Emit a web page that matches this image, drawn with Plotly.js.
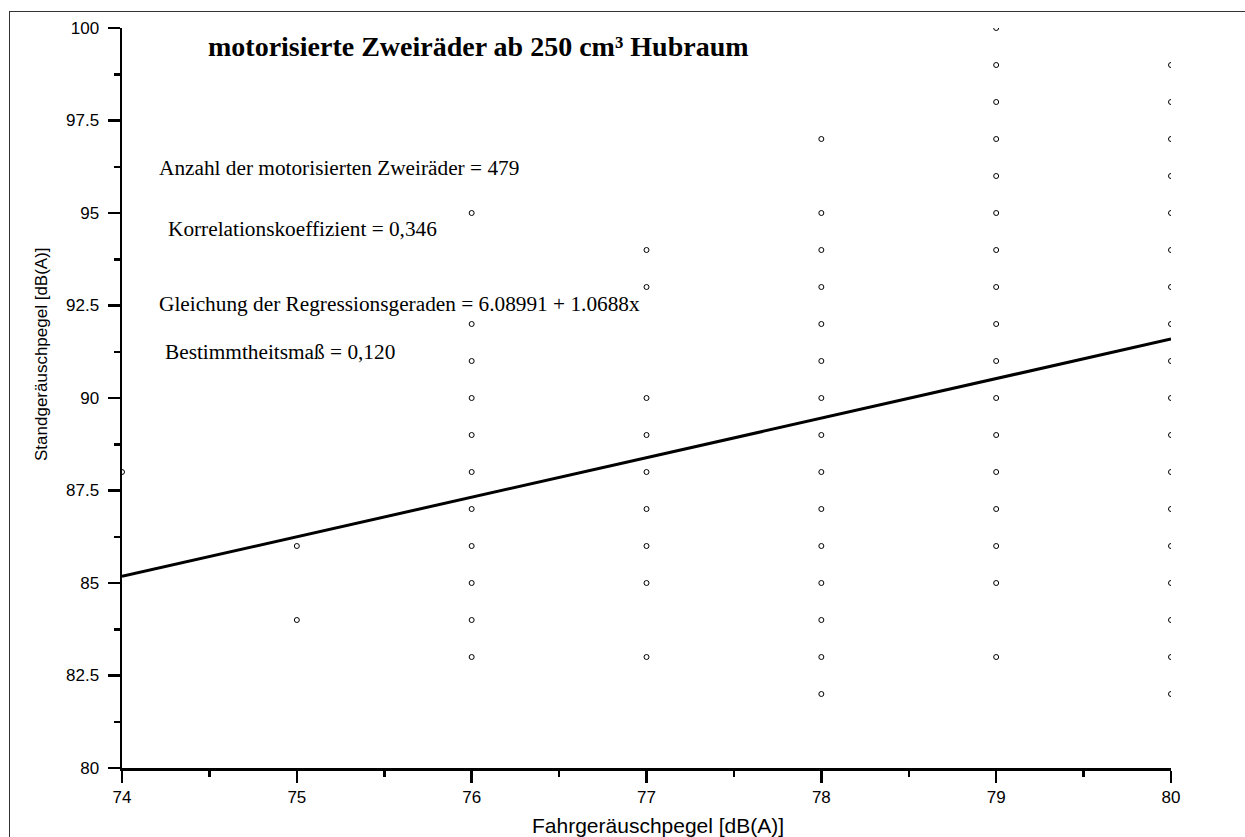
<!DOCTYPE html>
<html>
<head>
<meta charset="utf-8">
<script src="https://cdn.plot.ly/plotly-3.0.1.min.js"></script>
<style>
  html, body { margin: 0; padding: 0; background: #fff; }
  #wrap { position: relative; width: 1245px; height: 837px; overflow: hidden; }
  #chart { position: absolute; left: 0; top: 0; width: 1245px; height: 837px; }
  #frame { position: absolute; left: 9px; top: 11px; width: 1300px; height: 900px;
           border-left: 1px solid #333; border-top: 1.5px solid #333; pointer-events: none; }
</style>
</head>
<body>
<div id="wrap">
  <div id="chart"></div>
  <div id="frame"></div>
</div>
<script>
// Fahrgeräuschpegel classes (x) and the Standgeräuschpegel values observed in each class
const fahrpegel = [74, 75, 76, 77, 78, 79, 80];
const stand74 = [88];
const stand75 = [86, 84];
const stand76 = [95, 92, 91, 90, 89, 88, 87, 86, 85, 84, 83];
const stand77 = [94, 93, 90, 89, 88, 87, 86, 85, 83];
const stand78 = [97, 95, 94, 93, 92, 91, 90, 89, 88, 87, 86, 85, 84, 83, 82];
const stand79 = [100, 99, 98, 97, 96, 95, 94, 93, 92, 91, 90, 89, 88, 87, 86, 85, 83];
const stand80 = [99, 98, 97, 96, 95, 94, 93, 92, 91, 90, 89, 88, 87, 86, 85, 84, 83, 82];
const standByClass = [stand74, stand75, stand76, stand77, stand78, stand79, stand80];

// regression line coefficients as printed in the chart
const intercept = 6.08991;
const slope = 1.0688;

const titleText = 'motorisierte Zweiräder ab 250 cm³ Hubraum';
const statLines = [
  'Anzahl der motorisierten Zweiräder = 479',
  'Korrelationskoeffizient = 0,346',
  'Gleichung der Regressionsgeraden = 6.08991 + 1.0688x',
  'Bestimmtheitsmaß = 0,120'
];
const xTitle = 'Fahrgeräuschpegel [dB(A)]';
const yTitle = 'Standgeräuschpegel [dB(A)]';

// flatten the classes into point lists
const px = [], py = [];
standByClass.forEach((vals, i) => {
  vals.forEach(v => { px.push(fahrpegel[i]); py.push(v); });
});

const xMin = fahrpegel[0], xMax = fahrpegel[fahrpegel.length - 1];
const lineX = [xMin, xMax];
const lineY = lineX.map(x => intercept + slope * x);

// plot area geometry (pixels)
const W = 1245, H = 837;
const M = { l: 122, r: 74, t: 28, b: 69 };
const plotW = W - M.l - M.r, plotH = H - M.t - M.b;
const paperX = p => (p - M.l) / plotW;
const paperY = p => (H - M.b - p) / plotH;

const serif = 'Liberation Serif, Times New Roman, serif';
const sans = 'Liberation Sans, Arial, sans-serif';

const statPos = [
  { x: 157, y: 168 },
  { x: 166, y: 229 },
  { x: 157, y: 304 },
  { x: 163, y: 352 }
];

const annotations = statLines.map((t, i) => ({
  text: t, xref: 'paper', yref: 'paper',
  x: paperX(statPos[i].x), y: paperY(statPos[i].y),
  xanchor: 'left', yanchor: 'middle', showarrow: false,
  font: { family: serif, size: 21.3, color: '#000' }
}));

annotations.push({
  text: xTitle, xref: 'paper', yref: 'paper',
  x: paperX(658), y: paperY(825), xanchor: 'center', yanchor: 'middle',
  showarrow: false, font: { family: sans, size: 21, color: '#000' }
});
annotations.push({
  text: yTitle, xref: 'paper', yref: 'paper', textangle: -90,
  x: paperX(41), y: paperY(354), xanchor: 'center', yanchor: 'middle',
  showarrow: false, font: { family: sans, size: 17, color: '#000' }
});

const traces = [
  {
    type: 'scatter', mode: 'markers', x: px, y: py,
    marker: { symbol: 'circle-open', size: 5, color: '#000', line: { width: 1, color: '#000' } },
    cliponaxis: true, hoverinfo: 'skip', showlegend: false
  },
  {
    type: 'scatter', mode: 'lines', x: lineX, y: lineY,
    line: { color: '#000', width: 3 }, hoverinfo: 'skip', showlegend: false
  }
];

const axisCommon = {
  showgrid: false, zeroline: false, showline: true,
  linecolor: '#000', linewidth: 2.5,
  ticks: 'outside', ticklen: 12, tickwidth: 2.5, tickcolor: '#000',
  tickfont: { family: sans, size: 17, color: '#000' }
};

const layout = {
  width: W, height: H,
  margin: M,
  paper_bgcolor: '#fff', plot_bgcolor: '#fff',
  showlegend: false,
  title: {
    text: titleText, xref: 'container', yref: 'container',
    x: 208 / W, y: 1 - 46 / H, xanchor: 'left', yanchor: 'middle',
    font: { family: serif, size: 28, color: '#000', weight: 'bold' }
  },
  xaxis: Object.assign({}, axisCommon, {
    range: [xMin, xMax], tick0: 74, dtick: 1,
    minor: { dtick: 0.5, ticks: 'outside', ticklen: 6, tickwidth: 2.5, tickcolor: '#000' }
  }),
  yaxis: Object.assign({}, axisCommon, {
    range: [80, 100], tick0: 80, dtick: 2.5, ticklabelstandoff: 5,
    minor: { dtick: 1.25, ticks: 'outside', ticklen: 6, tickwidth: 2.5, tickcolor: '#000' }
  }),
  annotations: annotations
};

Plotly.newPlot('chart', traces, layout, { staticPlot: true, displayModeBar: false });
</script>
</body>
</html>
